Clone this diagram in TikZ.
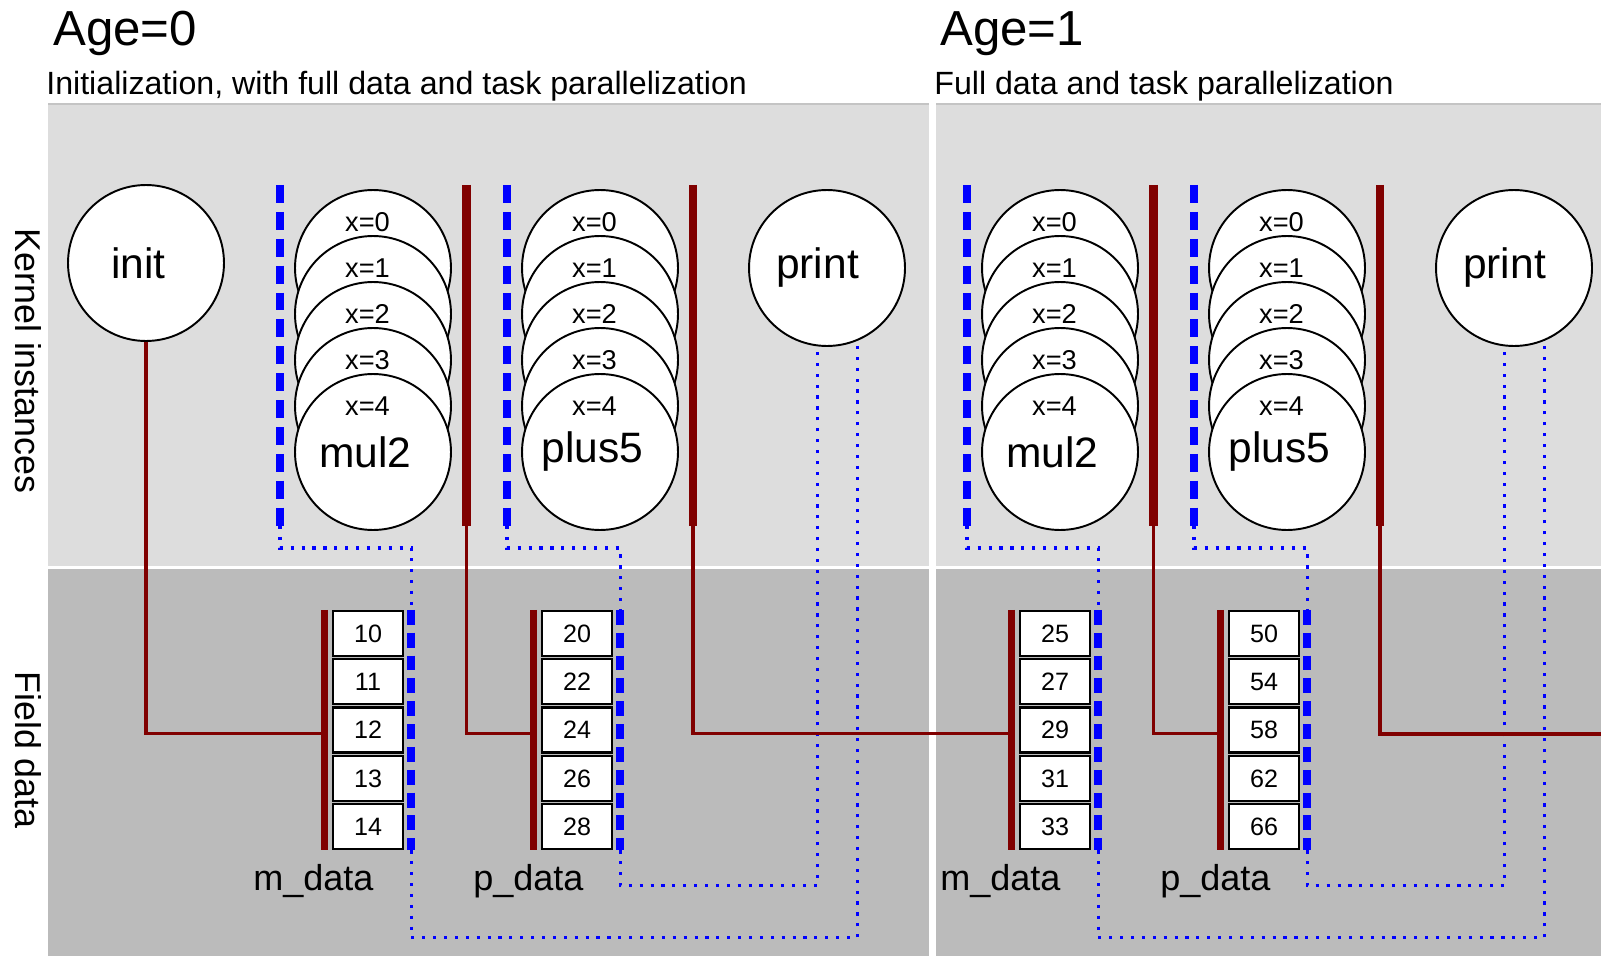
\documentclass[tikz,border=0pt]{standalone}
\usepackage{fontspec}
\setmainfont{Liberation Sans}
\usetikzlibrary{positioning, calc}
\definecolor{PanelTop}{RGB}{221,221,221}
\definecolor{PanelLow}{RGB}{187,187,187}
\definecolor{PanelEdge}{RGB}{196,196,196}
\definecolor{WireRed}{RGB}{128,0,0}
\definecolor{PortBlue}{RGB}{0,0,255}

\begin{document}
\begin{tikzpicture}[
    x=0.02cm, y=-0.02cm,
    title/.style={anchor=base west, inner sep=0pt, font=\fontsize{28}{28}\selectfont},
    subtitle/.style={anchor=base west, inner sep=0pt, font=\fontsize{18.3}{18.3}\selectfont},
    side/.style={rotate=-90, inner sep=0pt, font=\fontsize{20.4}{20.4}\selectfont},
    kernel/.style={circle, draw=black, fill=white, line width=1.1pt, minimum size=3.12cm, inner sep=0pt},
    kname/.style={inner sep=0pt, xshift=-0.15cm, font=\fontsize{24.2}{24.2}\selectfont},
    xlab/.style={inner sep=0pt, xshift=-0.11cm, yshift=0.92cm, font=\fontsize{15.5}{15.5}\selectfont},
    cell/.style={rectangle, draw=black, fill=white, line width=1.3pt, minimum width=1.4cm, minimum height=0.9cm, inner sep=0pt, font=\fontsize{14.3}{14.3}\selectfont},
    dname/.style={anchor=base west, inner sep=0pt, font=\fontsize{20.5}{20.5}\selectfont},
    kbar/.style={draw=WireRed, line width=4.6pt},
    dbar/.style={draw=WireRed, line width=3.9pt},
    wire/.style={draw=WireRed, line width=1.9pt},
    kport/.style={draw=PortBlue, line width=4.9pt, dash pattern=on 10.2pt off 5.1pt},
    dport/.style={draw=PortBlue, line width=4.4pt, dash pattern=on 8.5pt off 4.5pt},
    dotline/.style={draw=PortBlue, line width=1.8pt, dash pattern=on 1.8pt off 4.4pt}
]
    \useasboundingbox (0,0) rectangle (1601,956);

    % Background panels
    \fill[PanelTop] (48,104) rectangle (929,566);
    \fill[PanelTop] (936,104) rectangle (1601,566);
    \fill[PanelLow] (48,569) rectangle (929,956);
    \fill[PanelLow] (936,569) rectangle (1601,956);
    \draw[PanelEdge, line width=0.6pt] (48,104) -- (929,104) (936,104) -- (1601,104);

    % Titles and side labels
    \node[title] (age0) at (53,46) {Age=0};
    \node[subtitle] (sub0) at (46,95) {Initialization, with full data and task parallelization};
    \node[title] (age1) at (940,46) {Age=1};
    \node[subtitle] (sub1) at (934,95) {Full data and task parallelization};
    \node[side] (kside) at (28,361) {Kernel instances};
    \node[side] (fside) at (28,750) {Field data};

    % Initialization kernel
    \node[kernel] (init) at (146,263) {};
    \node[kname] (initn) at (init.center) {init};

    % One age per panel
    \foreach \p/\dx/\mv/\pv in {A/0/{10,11,12,13,14}/{20,22,24,26,28}, B/687/{25,27,29,31,33}/{50,54,58,62,66}} {
        % kernel instance stacks
        \foreach \k/\kx/\kn in {m/373/mul2, p/600/plus5} {
            \foreach \i in {0,...,4} {
                \node[kernel] (\k\p\i) at (\kx+\dx, 268+46*\i) {};
                \node[xlab] (\k\p x\i) at (\k\p\i.center) {x=\i};
            }
            \node[kname] (\k\p n) at (\k\p4.center) {\kn};
        }
        \node[kernel] (print\p) at (827+\dx,268) {};
        \node[kname, xshift=-0.04cm] (print\p n) at (print\p.center) {print};

        % kernel read ports and write bars
        \draw[kport] (280+\dx,185) coordinate (min\p t) -- (280+\dx,526) coordinate (min\p b);
        \draw[kport] (507+\dx,185) coordinate (pin\p t) -- (507+\dx,526) coordinate (pin\p b);
        \draw[kbar] (466.5+\dx,185) coordinate (mout\p t) -- (466.5+\dx,526) coordinate (mout\p b);
        \draw[kbar] (693+\dx,185) coordinate (pout\p t) -- (693+\dx,526) coordinate (pout\p b);

        % field data
        \foreach \v [count=\i from 0] in \mv {
            \node[cell] (md\p\i) at (368+\dx, 633.5+48.3*\i) {\v};
        }
        \foreach \v [count=\i from 0] in \pv {
            \node[cell] (pd\p\i) at (577+\dx, 633.5+48.3*\i) {\v};
        }
        \draw[dbar] ([xshift=-0.14cm]md\p0.north west) coordinate (mbar\p t) -- ([xshift=-0.14cm]md\p4.south west) coordinate (mbar\p b);
        \draw[dbar] ([xshift=-0.14cm]pd\p0.north west) coordinate (pbar\p t) -- ([xshift=-0.14cm]pd\p4.south west) coordinate (pbar\p b);
        \draw[dport] ([xshift=0.14cm]md\p0.north east) coordinate (mport\p t) -- ([xshift=0.14cm]md\p4.south east) coordinate (mport\p b);
        \draw[dport] ([xshift=0.14cm]pd\p0.north east) coordinate (pport\p t) -- ([xshift=0.14cm]pd\p4.south east) coordinate (pport\p b);
        \coordinate (mbar\p c) at ($(mbar\p t)!0.515!(mbar\p b)$);
        \coordinate (pbar\p c) at ($(pbar\p t)!0.515!(pbar\p b)$);
        \node[dname] (mname\p) at (253+\dx,890) {m\_data};
        \node[dname] (pname\p) at (473+\dx,890) {p\_data};

        % dependencies
        \draw[wire] (mout\p b) |- (pbar\p c);
        \draw[dotline] (min\p b) -- ++(0,22) -| (mport\p t);
        \draw[dotline] (mport\p b) -- ++(0,87) -| (print\p.-67);
        \draw[dotline] (pin\p b) -- ++(0,22) -| (pport\p t);
        \draw[dotline] (pport\p b) -- ++(0,35) -| (print\p.-97);
    }

    % Links across ages
    \coordinate (edgeB) at (1601,734);
    \draw[wire] (init.south) |- (mbarAc);
    \draw[wire] (poutAb) |- (mbarBc);
    \draw[wire] (poutBb) |- (edgeB);

\end{tikzpicture}
\end{document}
